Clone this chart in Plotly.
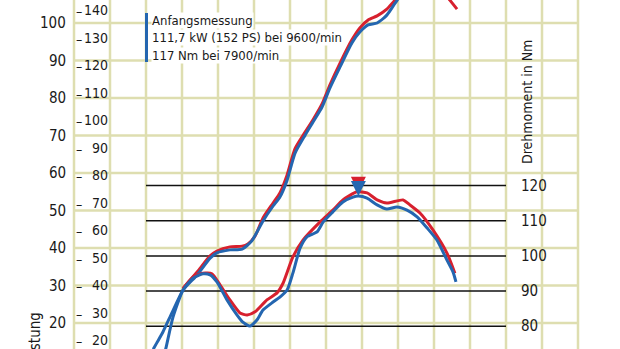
import plotly.graph_objects as go

# ---------------- data ----------------
rpm_power_blue = [2200, 2300, 2470, 2720, 3030, 3420, 3780, 3970, 4330, 4670, 4940, 5250, 5530,
                  5720, 5920, 6140, 6420, 6640, 6890, 7110, 7390, 7720, 7940, 8170, 8420, 8690,
                  8920, 9190, 9600, 10000, 10450]
kw_power_blue = [13.0, 14.7, 17.6, 22.7, 28.8, 32.8, 37.3, 38.7, 39.5, 39.7, 41.9, 47.2, 51.2,
                 53.6, 58.1, 65.3, 70.1, 73.6, 77.6, 82.7, 88.3, 94.7, 97.6, 99.5, 100.0, 102.1,
                 105.3, 108.8, 111.7, 110.3, 106.5]

rpm_power_red = [3030, 3420, 3780, 3970, 4330, 4670, 4830, 5030, 5250, 5530, 5720, 5920, 6140,
                 6420, 6640, 6890, 7110, 7390, 7720, 7940, 8170, 8420, 8690, 8920, 9600, 10170,
                 10440, 10640]
kw_power_red = [29.3, 33.6, 37.9, 39.2, 40.3, 40.5, 41.1, 43.2, 48.0, 52.0, 54.7, 59.5, 66.5,
                70.9, 74.2, 78.4, 83.5, 89.3, 95.5, 98.7, 100.8, 101.9, 103.7, 106.1, 112.0, 109.3,
                106.1, 103.7]

rpm_torque_blue = [2500, 2560, 2750, 3030, 3310, 3580, 3780, 3970, 4250, 4530, 4690, 4890, 5080,
                   5250, 5530, 5720, 5920, 6080, 6280, 6470, 6750, 6920, 7190, 7470, 7750, 7900,
                   8140, 8420, 8690, 8970, 9250, 9530, 9810, 10080, 10360, 10530, 10610]
nm_torque_blue = [71.8, 74.1, 82.6, 90.3, 93.7, 94.9, 94.6, 92.6, 87.5, 83.2, 81.2, 80.1, 81.8,
                  84.6, 86.9, 88.3, 90.3, 95.1, 102.2, 105.4, 106.8, 109.6, 112.5, 115.3, 116.7, 117.0,
                  116.4, 114.5, 113.3, 113.9, 113.0, 111.1, 107.9, 104.5, 98.8, 95.4, 92.6]

rpm_torque_red = [3030, 3310, 3580, 3830, 4060, 4330, 4610, 4810, 5030, 5360, 5640, 5810, 6080,
                  6360, 6830, 7190, 7470, 7860, 8140, 8420, 8690, 9140, 9330, 9610, 9970, 10360,
                  10580]
nm_torque_red = [90.6, 94.0, 95.1, 94.9, 91.7, 87.5, 83.8, 83.2, 84.1, 87.5, 89.5, 92.3, 99.7,
                 104.5, 109.6, 113.0, 115.9, 118.2, 117.9, 115.9, 115.0, 115.9, 114.5, 112.2, 107.4,
                 100.8, 95.1]

peak_rpm = [7900]
peak_nm_blue = [117.0]
peak_nm_red = [118.2]

kw_ticks = [20, 30, 40, 50, 60, 70, 80, 90, 100]
ps_ticks = [20, 30, 40, 50, 60, 70, 80, 90, 100, 110, 120, 130, 140]
nm_ticks = [80, 90, 100, 110, 120]
rpm_grid = list(range(0, 14001, 1000))

legend_lines = ["Anfangsmessung", "111,7 kW (152 PS) bei 9600/min", "117 Nm bei 7900/min"]
left_title = "Leistung"
right_title = "Drehmoment in Nm"

# ---------------- style ----------------
W, H = 620, 349
RED = "#d7202e"
BLUE = "#2466b0"
GRID = "#dedeb0"
FONT = "DejaVu Sans Condensed, Liberation Sans Narrow, Arial Narrow, sans-serif"
TXT = "#1a1a1a"

# axis calibration (pixel positions)
x0_px, px_per_rpm = 74.0, 0.036
xr = [-x0_px / px_per_rpm, (W - x0_px) / px_per_rpm]
kw_ref_px, kw_ref, px_per_kw = 23.0, 100.0, 3.75
yr_kw = [kw_ref - (H - kw_ref_px) / px_per_kw, kw_ref + kw_ref_px / px_per_kw]
nm_ref_px, nm_ref, px_per_nm = 185.5, 120.0, 3.52
yr_nm = [nm_ref - (H - nm_ref_px) / px_per_nm, nm_ref + nm_ref_px / px_per_nm]
ps_ref_px, ps_ref, px_per_ps = 10.0, 140.0, 2.75
yr_ps = [ps_ref - (H - ps_ref_px) / px_per_ps, ps_ref + ps_ref_px / px_per_ps]

fig = go.Figure()

line_w = 3
spl = dict(shape="spline", smoothing=0.6)
fig.add_trace(go.Scatter(x=rpm_power_red, y=kw_power_red, mode="lines",
                         line=dict(color=RED, width=line_w, **spl), hoverinfo="skip", showlegend=False))
fig.add_trace(go.Scatter(x=rpm_power_blue, y=kw_power_blue, mode="lines",
                         line=dict(color=BLUE, width=line_w, **spl), hoverinfo="skip", showlegend=False))
fig.add_trace(go.Scatter(x=rpm_torque_red, y=nm_torque_red, mode="lines", yaxis="y2",
                         line=dict(color=RED, width=line_w, **spl), hoverinfo="skip", showlegend=False))
fig.add_trace(go.Scatter(x=rpm_torque_blue, y=nm_torque_blue, mode="lines", yaxis="y2",
                         line=dict(color=BLUE, width=line_w, **spl), hoverinfo="skip", showlegend=False))
fig.add_trace(go.Scatter(x=peak_rpm, y=peak_nm_red, mode="markers", yaxis="y2",
                         marker=dict(symbol="arrow-down", size=15, color=RED, line=dict(width=0)),
                         hoverinfo="skip", showlegend=False))
fig.add_trace(go.Scatter(x=peak_rpm, y=peak_nm_blue, mode="markers", yaxis="y2",
                         marker=dict(symbol="arrow-down", size=15, color=BLUE, line=dict(width=0)),
                         hoverinfo="skip", showlegend=False))
fig.add_trace(go.Scatter(x=[None], y=[None], yaxis="y3", hoverinfo="skip", showlegend=False))

shapes = []
for r in rpm_grid:
    shapes.append(dict(type="line", xref="x", yref="paper", x0=r, x1=r, y0=0, y1=1,
                       line=dict(color=GRID, width=2.5), layer="below"))
for k in kw_ticks:
    shapes.append(dict(type="line", xref="x", yref="y", x0=rpm_grid[0], x1=rpm_grid[-1], y0=k, y1=k,
                       line=dict(color=GRID, width=2.5), layer="below"))
for n in nm_ticks:
    shapes.append(dict(type="line", xref="x", yref="y2", x0=2000, x1=12000, y0=n, y1=n,
                       line=dict(color="#111111", width=1.5), layer="below"))

TICK = 15
annotations = []
for k in kw_ticks:
    annotations.append(dict(xref="paper", yref="y", x=68 / W, y=k, text=str(k), showarrow=False,
                            xanchor="right", yanchor="middle", font=dict(family=FONT, size=TICK, color=TXT)))
for p in ps_ticks:
    annotations.append(dict(xref="paper", yref="y3", x=109 / W, y=p, text=str(p), showarrow=False,
                            xanchor="right", yanchor="middle", borderpad=0,
                            font=dict(family=FONT, size=14, color=TXT)))
    annotations.append(dict(xref="paper", yref="y3", x=79 / W, y=p, text="–", showarrow=False,
                            xanchor="center", yanchor="middle", yshift=-1, borderpad=0,
                            font=dict(family=FONT, size=14, color=TXT)))
for n in nm_ticks:
    annotations.append(dict(xref="paper", yref="y2", x=519 / W, y=n, text=str(n), showarrow=False,
                            xanchor="left", yanchor="middle", font=dict(family=FONT, size=TICK, color=TXT)))

annotations.append(dict(xref="paper", yref="paper", x=527 / W, y=1 - 102 / H, text=right_title,
                        showarrow=False, textangle=-90, xanchor="center", yanchor="middle",
                        font=dict(family=FONT, size=14, color=TXT)))
annotations.append(dict(xref="paper", yref="paper", x=34 / W, y=1 - 311 / H, text=left_title,
                        showarrow=False, textangle=-90, xanchor="center", yanchor="top",
                        font=dict(family=FONT, size=15, color=TXT)))

legend_y = [20, 37.5, 55]
for t, yy in zip(legend_lines, legend_y):
    annotations.append(dict(xref="paper", yref="paper", x=151 / W, y=1 - yy / H, text=t,
                            showarrow=False, xanchor="left", yanchor="middle", bgcolor="white",
                            borderpad=0, font=dict(family=FONT, size=13, color=TXT)))
shapes.append(dict(type="rect", xref="paper", yref="paper", x0=145 / W, x1=148 / W,
                   y0=1 - 62 / H, y1=1 - 13 / H, fillcolor=BLUE, line=dict(width=0), layer="above"))

fig.update_layout(
    width=W, height=H, margin=dict(l=0, r=0, t=0, b=0),
    paper_bgcolor="white", plot_bgcolor="white",
    xaxis=dict(range=xr, visible=False, fixedrange=True),
    yaxis=dict(range=yr_kw, visible=False, fixedrange=True),
    yaxis2=dict(range=yr_nm, visible=False, overlaying="y", fixedrange=True),
    yaxis3=dict(range=yr_ps, visible=False, overlaying="y", fixedrange=True),
    shapes=shapes, annotations=annotations, showlegend=False,
)

fig.write_html("out.html")
